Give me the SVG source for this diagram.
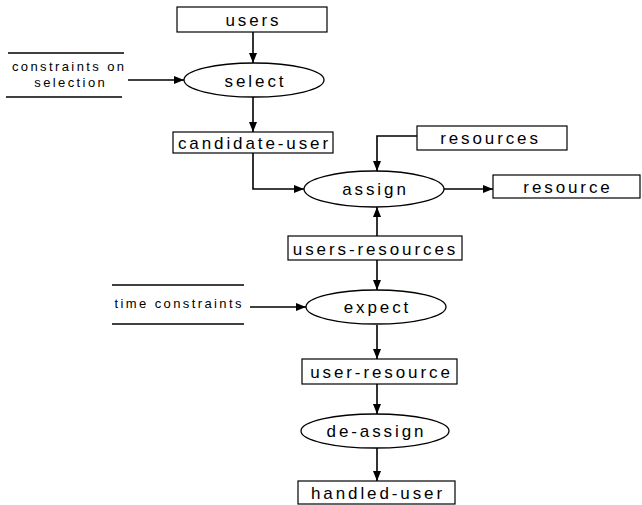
<svg xmlns="http://www.w3.org/2000/svg" width="642" height="505" viewBox="0 0 642 505">
<style>
.box{fill:#fff;stroke:#000;stroke-width:1.2}
.ell{fill:#fff;stroke:#000;stroke-width:1.3}
.rule{stroke:#000;stroke-width:1.6}
.c{fill:none;stroke:#000;stroke-width:1.6}
.t{font-family:"Liberation Sans",Arial,sans-serif;font-size:17px;letter-spacing:2.9px;text-anchor:middle;fill:#000}
.s{font-family:"Liberation Sans",Arial,sans-serif;font-size:13px;letter-spacing:2.4px;text-anchor:middle;fill:#000}
</style>
<defs>
<marker id="ah" markerWidth="10" markerHeight="8" refX="10" refY="4" orient="auto" markerUnits="userSpaceOnUse">
<path d="M0,0 L10,4 L0,8 Z" fill="#000"/>
</marker>
</defs>
<rect width="642" height="505" fill="#fff"/>
<g id="connectors">
<path class="c" d="M253,32 V63" marker-end="url(#ah)"/>
<path class="c" d="M128,80 H184" marker-end="url(#ah)"/>
<path class="c" d="M253,97 V132" marker-end="url(#ah)"/>
<path class="c" d="M253,153 V189 H304" marker-end="url(#ah)"/>
<path class="c" d="M417,136 H377 V171" marker-end="url(#ah)"/>
<path class="c" d="M444,189 H493" marker-end="url(#ah)"/>
<path class="c" d="M377,236 V207" marker-end="url(#ah)"/>
<path class="c" d="M377,260 V290" marker-end="url(#ah)"/>
<path class="c" d="M250,307 H306" marker-end="url(#ah)"/>
<path class="c" d="M377,325 V359" marker-end="url(#ah)"/>
<path class="c" d="M377,384 V414" marker-end="url(#ah)"/>
<path class="c" d="M377,448 V481" marker-end="url(#ah)"/>
</g>
<g id="users"><rect class="box" x="177" y="7" width="150" height="25"/><text class="t" x="253.5" y="25.5">users</text></g>
<g id="constraints-on-selection">
<line class="rule" x1="8" y1="53" x2="124" y2="53"/>
<line class="rule" x1="6" y1="97" x2="122" y2="97"/>
<text class="s" x="69.2" y="71">constraints on</text>
<text class="s" x="70.7" y="87">selection</text>
</g>
<g id="select"><ellipse class="ell" cx="254" cy="80" rx="70" ry="17"/><text class="t" x="255.5" y="86.5">select</text></g>
<g id="candidate-user"><rect class="box" x="173" y="132" width="160" height="21"/><text class="t" x="254.5" y="148.5">candidate-user</text></g>
<g id="resources"><rect class="box" x="417" y="126" width="150" height="24"/><text class="t" x="490.5" y="144">resources</text></g>
<g id="assign"><ellipse class="ell" cx="374" cy="189" rx="70" ry="18"/><text class="t" x="375.5" y="195">assign</text></g>
<g id="resource"><rect class="box" x="493" y="175" width="147" height="23"/><text class="t" x="568" y="193">resource</text></g>
<g id="users-resources"><rect class="box" x="288" y="236" width="174" height="24"/><text class="t" x="375.5" y="254.5">users-resources</text></g>
<g id="time-constraints">
<line class="rule" x1="112" y1="285" x2="244" y2="285"/>
<line class="rule" x1="112" y1="324" x2="244" y2="324"/>
<text class="s" x="179.2" y="308">time constraints</text>
</g>
<g id="expect"><ellipse class="ell" cx="376" cy="307" rx="70" ry="17"/><text class="t" x="377.5" y="313">expect</text></g>
<g id="user-resource"><rect class="box" x="302" y="359" width="155" height="25"/><text class="t" x="381.5" y="377.5">user-resource</text></g>
<g id="de-assign"><ellipse class="ell" cx="375" cy="431" rx="74" ry="17"/><text class="t" x="376.5" y="437">de-assign</text></g>
<g id="handled-user"><rect class="box" x="298" y="481" width="157" height="23"/><text class="t" x="378" y="498.5">handled-user</text></g>
</svg>
